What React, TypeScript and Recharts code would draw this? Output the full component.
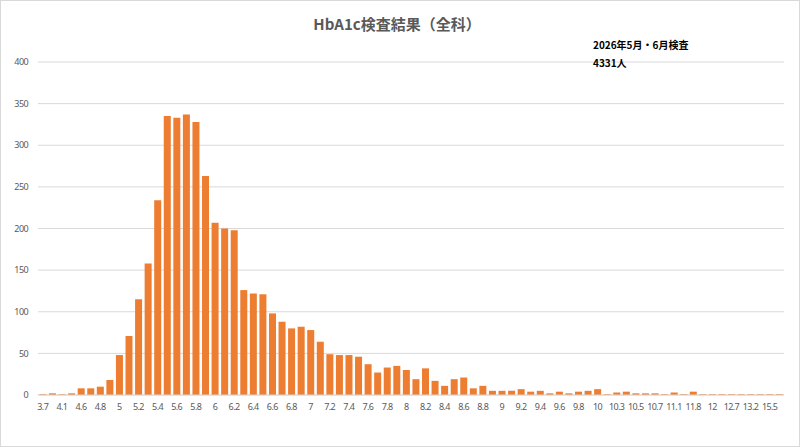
import React from 'react';
import { BarChart, Bar, XAxis, YAxis, CartesianGrid } from 'recharts';

const categories = [
  '3.7', '3.9', '4.1', '4.4',
  '4.6', '4.7', '4.8', '4.9', '5', '5.1', '5.2', '5.3', '5.4', '5.5',
  '5.6', '5.7', '5.8', '5.9', '6', '6.1', '6.2', '6.3', '6.4', '6.5',
  '6.6', '6.7', '6.8', '6.9', '7', '7.1', '7.2', '7.3', '7.4', '7.5',
  '7.6', '7.7', '7.8', '7.9', '8', '8.1', '8.2', '8.3', '8.4', '8.5',
  '8.6', '8.7', '8.8', '8.9', '9', '9.1', '9.2', '9.3', '9.4', '9.5',
  '9.6', '9.7', '9.8', '9.9', '10',
  '10.2', '10.3', '10.4', '10.5', '10.6', '10.7', '10.9', '11.1', '11.4',
  '11.8', '11.9', '12', '12.3', '12.7', '12.9', '13.2', '13.9', '15.5', '16.2',
];

const counts = [
  1, 2, 1, 2,
  8, 8, 10, 18, 48, 71, 115, 158, 234, 335,
  333, 337, 328, 263, 207, 200, 198, 126, 122, 121,
  98, 88, 80, 82, 78, 64, 49, 48, 48, 46,
  37, 27, 33, 35, 30, 19, 32, 17, 11, 19,
  21, 8, 11, 5, 5, 5, 7, 4, 5, 2,
  4, 2, 4, 5, 7,
  1, 3, 4, 2, 2, 2, 1, 3, 1,
  4, 1, 1, 1, 1, 1, 1, 1, 1, 1,
];

const yTicks = [0, 50, 100, 150, 200, 250, 300, 350, 400];

const title = 'HbA1c検査結果（全科）';
const noteLine1 = '2026年5月・6月検査';
const noteLine2 = '4331人';

const data = categories.map((c, i) => ({ name: c, value: counts[i] }));

const tickStyle = {
  fontSize: 9,
  fill: '#595959',
  fontFamily: '"Noto Sans", "DejaVu Sans", sans-serif',
  letterSpacing: -0.6,
};

export default function App() {
  return (
    <div
      style={{
        position: 'absolute',
        left: 0,
        top: 0,
        width: 800,
        height: 447,
        background: '#fff',
        boxSizing: 'border-box',
        border: '1px solid #d9d9d9',
        overflow: 'hidden',
      }}
    >
      <div style={{ position: 'absolute', left: -1, top: -1 }}>
        <BarChart
          width={800}
          height={447}
          data={data}
          margin={{ top: 62, right: 16, bottom: 32, left: 0 }}
          barCategoryGap="15%"
        >
          <CartesianGrid vertical={false} stroke="#d9d9d9" strokeWidth={1} />
          <XAxis
            dataKey="name"
            interval={1}
            tickLine={false}
            tickSize={0}
            tickMargin={9}
            axisLine={{ stroke: '#d9d9d9' }}
            tick={tickStyle}
            height={20}
          />
          <YAxis
            domain={[0, 400]}
            ticks={yTicks}
            width={38}
            axisLine={false}
            tickLine={false}
            tickSize={0}
            tickMargin={10}
            tick={tickStyle}
          />
          <Bar dataKey="value" fill="#ED7D31" isAnimationActive={false} />
        </BarChart>
      </div>
      <div
        style={{
          position: 'absolute',
          left: 0,
          width: 792,
          top: 12,
          textAlign: 'center',
          fontFamily: '"Noto Sans CJK JP", sans-serif',
          fontWeight: 'bold',
          fontSize: 15,
          lineHeight: '22px',
          color: '#595959',
        }}
      >
        {title}
      </div>
      <div
        style={{
          position: 'absolute',
          left: 592,
          top: 36,
          fontFamily: '"Noto Sans CJK JP", sans-serif',
          fontWeight: 'bold',
          fontSize: 10,
          lineHeight: '16px',
          color: '#000',
          whiteSpace: 'nowrap',
        }}
      >
        {noteLine1}
      </div>
      <div
        style={{
          position: 'absolute',
          left: 592,
          top: 54,
          fontFamily: '"Noto Sans CJK JP", sans-serif',
          fontWeight: 'bold',
          fontSize: 10,
          lineHeight: '16px',
          color: '#000',
          whiteSpace: 'nowrap',
        }}
      >
        {noteLine2}
      </div>
    </div>
  );
}
